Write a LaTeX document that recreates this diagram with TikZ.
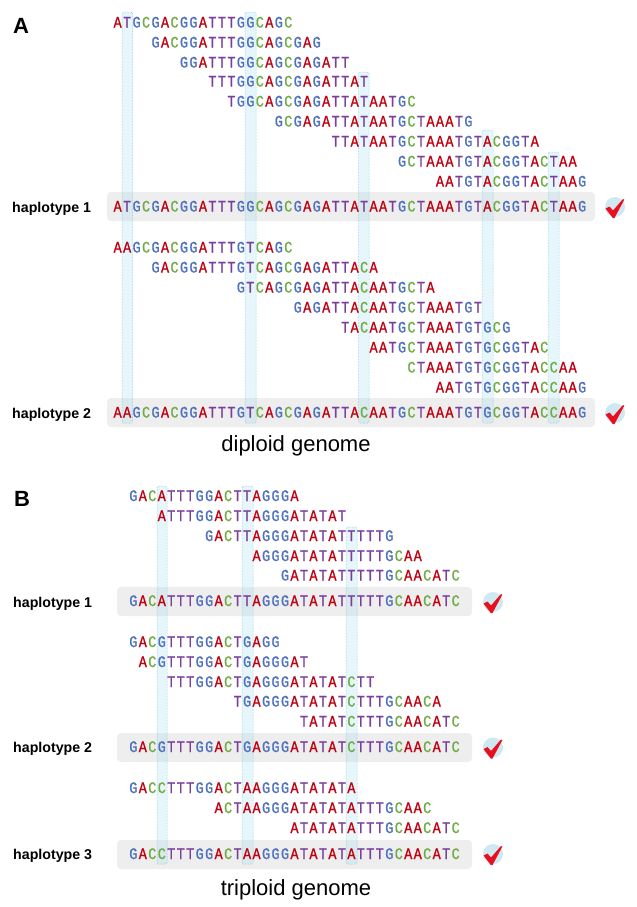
\documentclass[tikz,border=0pt]{standalone}
\usepackage{fontspec}
\setmainfont{Liberation Sans}
\newfontfamily\seqfont[FakeStretch=0.84,FakeBold=1]{Liberation Mono}
\definecolor{cA}{HTML}{C00010}
\definecolor{cT}{HTML}{7A3E9D}
\definecolor{cG}{HTML}{4F71BE}
\definecolor{cC}{HTML}{70AD47}
\definecolor{barcol}{HTML}{EEEEEE}
\definecolor{colfill}{HTML}{A6DFF0}
\definecolor{coledge}{HTML}{4FB9DC}
\definecolor{badge}{HTML}{CFE9F3}
\definecolor{tick}{HTML}{E8101E}
\newcommand\cellbox[2]{\makebox[9.48bp][c]{\textcolor{#1}{#2}}}
\def\LA{\cellbox{cA}{A}}
\def\LT{\cellbox{cT}{T}}
\def\LG{\cellbox{cG}{G}}
\def\LC{\cellbox{cC}{C}}
\def\cseq#1{\csq#1\relax}
\def\csq#1{\ifx#1\relax\else\csname L#1\endcsname\expandafter\csq\fi}
\def\pch{9.48}
\def\xA{112.9}
\def\xB{128.6}
\tikzset{
  seqtext/.style={anchor=base west,inner sep=0pt,outer sep=0pt,font=\seqfont\fontsize{16bp}{16bp}\selectfont},
  hapbar/.style={fill=barcol,rounded corners=4bp},
  snpcol/.style={fill=colfill,fill opacity=0.27,draw=coledge,draw opacity=0.9,densely dotted,line width=0.5bp,rounded corners=1.5bp},
  haplabel/.style={anchor=base west,inner sep=0pt,font=\bfseries\fontsize{14.2bp}{16bp}\selectfont},
  panellabel/.style={anchor=base west,inner sep=0pt,font=\bfseries\fontsize{22bp}{24bp}\selectfont},
  caption/.style={anchor=base,inner sep=0pt,font=\fontsize{22bp}{24bp}\selectfont},
  okbadge/.pic={
    \fill[badge] (0,0) circle (10);
    \fill[tick] (-9.5,1.5) -- (-5.5,-0.5) -- (-2,3.5) -- (8,-8) -- (9.3,-7.3) -- (-0.5,11) -- (-2.2,11) -- cycle;
  }
}
\begin{document}
\begin{tikzpicture}[x=1bp,y=-1bp]
\useasboundingbox (0,0) rectangle (637,907);
% hap bars
\fill[hapbar] (107,192) rectangle (595,221);
\fill[hapbar] (107,398) rectangle (595,427);
\fill[hapbar] (117,587) rectangle (472,616);
\fill[hapbar] (117,733) rectangle (472,762);
\fill[hapbar] (117,840) rectangle (472,869);
% SNP columns
\draw[snpcol] (122,12) rectangle (132.5,423);
\draw[snpcol] (245,12) rectangle (256,423);
\draw[snpcol] (358.5,72) rectangle (369,423);
\draw[snpcol] (482,130) rectangle (493,423);
\draw[snpcol] (548,152) rectangle (559,423);
\draw[snpcol] (157,486) rectangle (167,864);
\draw[snpcol] (242,486) rectangle (253,864);
\draw[snpcol] (346,527) rectangle (357,864);
% panel A reads
\node[seqtext] (a1) at ({\xA+0*\pch},27.5) {\cseq{ATGCGACGGATTTGGCAGC}};
\node[seqtext] (a2) at ({\xA+4*\pch},47.5) {\cseq{GACGGATTTGGCAGCGAG}};
\node[seqtext] (a3) at ({\xA+7*\pch},67.5) {\cseq{GGATTTGGCAGCGAGATT}};
\node[seqtext] (a4) at ({\xA+10*\pch},86.5) {\cseq{TTTGGCAGCGAGATTAT}};
\node[seqtext] (a5) at ({\xA+12*\pch},106.5) {\cseq{TGGCAGCGAGATTATAATGC}};
\node[seqtext] (a6) at ({\xA+17*\pch},126.5) {\cseq{GCGAGATTATAATGCTAAATG}};
\node[seqtext] (a7) at ({\xA+23*\pch},146.5) {\cseq{TTATAATGCTAAATGTACGGTA}};
\node[seqtext] (a8) at ({\xA+30*\pch},166.5) {\cseq{GCTAAATGTACGGTACTAA}};
\node[seqtext] (a9) at ({\xA+34*\pch},186.5) {\cseq{AATGTACGGTACTAAG}};
\node[seqtext] (ah1) at ({\xA+0*\pch},211.5) {\cseq{ATGCGACGGATTTGGCAGCGAGATTATAATGCTAAATGTACGGTACTAAG}};
\node[seqtext] (b1) at ({\xA+0*\pch},252.5) {\cseq{AAGCGACGGATTTGTCAGC}};
\node[seqtext] (b2) at ({\xA+4*\pch},272.5) {\cseq{GACGGATTTGTCAGCGAGATTACA}};
\node[seqtext] (b3) at ({\xA+13*\pch},292.5) {\cseq{GTCAGCGAGATTACAATGCTA}};
\node[seqtext] (b4) at ({\xA+19*\pch},312.5) {\cseq{GAGATTACAATGCTAAATGT}};
\node[seqtext] (b5) at ({\xA+24*\pch},332.5) {\cseq{TACAATGCTAAATGTGCG}};
\node[seqtext] (b6) at ({\xA+27*\pch},352.5) {\cseq{AATGCTAAATGTGCGGTAC}};
\node[seqtext] (b7) at ({\xA+31*\pch},372.5) {\cseq{CTAAATGTGCGGTACCAA}};
\node[seqtext] (b8) at ({\xA+34*\pch},392.5) {\cseq{AATGTGCGGTACCAAG}};
\node[seqtext] (ah2) at ({\xA+0*\pch},417.5) {\cseq{AAGCGACGGATTTGTCAGCGAGATTACAATGCTAAATGTGCGGTACCAAG}};
% panel B reads
\node[seqtext] (c1) at ({\xB+0*\pch},501) {\cseq{GACATTTGGACTTAGGGA}};
\node[seqtext] (c2) at ({\xB+3*\pch},521) {\cseq{ATTTGGACTTAGGGATATAT}};
\node[seqtext] (c3) at ({\xB+8*\pch},541) {\cseq{GACTTAGGGATATATTTTTG}};
\node[seqtext] (c4) at ({\xB+13*\pch},561) {\cseq{AGGGATATATTTTTGCAA}};
\node[seqtext] (c5) at ({\xB+16*\pch},580.5) {\cseq{GATATATTTTTGCAACATC}};
\node[seqtext] (bh1) at ({\xB+0*\pch},606) {\cseq{GACATTTGGACTTAGGGATATATTTTTGCAACATC}};
\node[seqtext] (d1) at ({\xB+0*\pch},647) {\cseq{GACGTTTGGACTGAGG}};
\node[seqtext] (d2) at ({\xB+1*\pch},667) {\cseq{ACGTTTGGACTGAGGGAT}};
\node[seqtext] (d3) at ({\xB+4*\pch},687) {\cseq{TTTGGACTGAGGGATATATCTT}};
\node[seqtext] (d4) at ({\xB+11*\pch},706.5) {\cseq{TGAGGGATATATCTTTGCAACA}};
\node[seqtext] (d5) at ({\xB+18*\pch},726.5) {\cseq{TATATCTTTGCAACATC}};
\node[seqtext] (bh2) at ({\xB+0*\pch},752) {\cseq{GACGTTTGGACTGAGGGATATATCTTTGCAACATC}};
\node[seqtext] (e1) at ({\xB+0*\pch},793) {\cseq{GACCTTTGGACTAAGGGATATATA}};
\node[seqtext] (e2) at ({\xB+9*\pch},813) {\cseq{ACTAAGGGATATATATTTGCAAC}};
\node[seqtext] (e3) at ({\xB+17*\pch},833) {\cseq{ATATATATTTGCAACATC}};
\node[seqtext] (bh3) at ({\xB+0*\pch},859) {\cseq{GACCTTTGGACTAAGGGATATATATTTGCAACATC}};
% labels
\node[panellabel] (pa) at (13,33) {A};
\node[panellabel] (pb) at (14,506) {B};
\node[haplabel] (l1) at (12,212) {haplotype 1};
\node[haplabel] (l2) at (12,418) {haplotype 2};
\node[haplabel] (l3) at (13,607) {haplotype 1};
\node[haplabel] (l4) at (13,752.5) {haplotype 2};
\node[haplabel] (l5) at (13,859) {haplotype 3};
\node[caption] (cap1) at (296,451) {diploid genome};
\node[caption] (cap2) at (296,895) {triploid genome};
% badges
\pic at (615,207) {okbadge};
\pic at (615,413) {okbadge};
\pic at (493,602) {okbadge};
\pic at (493,747.5) {okbadge};
\pic at (493,854) {okbadge};
\end{tikzpicture}
\end{document}
